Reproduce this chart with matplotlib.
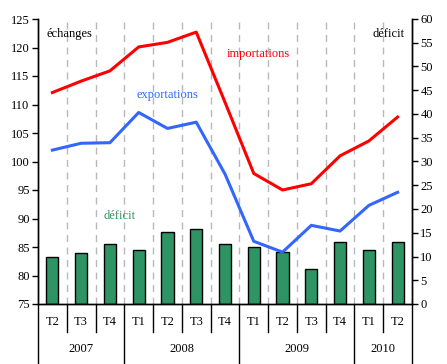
import matplotlib
matplotlib.use("Agg")
import matplotlib.pyplot as plt
import matplotlib.transforms as mtransforms
import numpy as np

# ===== Data =====
quarters = ["T2", "T3", "T4", "T1", "T2", "T3", "T4", "T1", "T2", "T3", "T4", "T1", "T2"]
years = ["2007", "2008", "2009", "2010"]
year_counts = [3, 4, 4, 2]

importations = [112.1, 114.1, 115.9, 120.1, 120.9, 122.7, 110.4, 97.9, 95.0, 96.1, 101.0, 103.6, 107.8]
exportations = [102.0, 103.2, 103.3, 108.6, 105.8, 106.9, 97.8, 86.0, 84.1, 88.8, 87.8, 92.3, 94.6]
deficit = [10.0, 10.7, 12.6, 11.3, 15.1, 15.7, 12.6, 11.9, 10.9, 7.3, 13.0, 11.3, 13.0]

# ===== Styling =====
font_name = "Liberation Serif"
plt.rcParams["font.family"] = font_name
tick_size = 9
text_size = 9
red = "#ff0000"
blue = "#3366ff"
green = "#2e9463"

x = np.arange(len(quarters))

fig = plt.figure(figsize=(4.47, 3.64), dpi=100)
ax = fig.add_axes([38 / 447, 60 / 364, 374 / 447, 285 / 364])
ax2 = ax.twinx()

# bars behind the lines
ax2.set_zorder(1)
ax.set_zorder(2)
ax.patch.set_visible(False)

ax2.bar(x, deficit, width=0.42, color=green, edgecolor="black", linewidth=1.0)
ax.plot(x, importations, color=red, linewidth=2.2)
ax.plot(x, exportations, color=blue, linewidth=2.2)

ax.set_xlim(-0.5, len(quarters) - 0.5)
ax.set_ylim(75, 125)
ax2.set_ylim(0, 60)
ax.set_yticks(np.arange(75, 126, 5))
ax2.set_yticks(np.arange(0, 61, 5))
ax.set_xticks([])
ax2.set_xticks([])

for a in (ax, ax2):
    a.spines["top"].set_visible(False)
    for s in a.spines.values():
        s.set_linewidth(1.0)
ax.tick_params(axis="y", direction="out", length=4, width=1, labelsize=tick_size, pad=2)
ax2.tick_params(axis="y", direction="out", length=4, width=1, labelsize=tick_size, pad=2)

# dashed vertical separators
for b in np.arange(0.5, len(quarters) - 0.5, 1):
    ax.axvline(b, color="#b8b8b8", linestyle=(0, (5, 4)), linewidth=1.0, zorder=0)

# ===== Category axis (quarters / years) =====
trans = mtransforms.blended_transform_factory(ax.transData, ax.transAxes)
year_edges = np.concatenate([[0], np.cumsum(year_counts)]) - 0.5
for b in np.arange(-0.5, len(quarters), 1):
    if np.any(np.isclose(b, year_edges)):
        ax.plot([b, b], [0, -0.215], color="black", linewidth=1.0, transform=trans, clip_on=False)
    else:
        ax.plot([b, b], [0, -0.097], color="black", linewidth=1.0, transform=trans, clip_on=False)

for xi, q in zip(x, quarters):
    ax.text(xi, -0.062, q, transform=trans, ha="center", va="center", fontsize=tick_size)
for i, yr in enumerate(years):
    ax.text((year_edges[i] + year_edges[i + 1]) / 2, -0.159, yr, transform=trans,
            ha="center", va="center", fontsize=tick_size)

# ===== Labels =====
ax.text(-0.19, 122.4, "échanges", fontsize=text_size, color="black", va="center", ha="left")
ax.text(12.26, 122.4, "déficit", fontsize=text_size, color="black", va="center", ha="right")
ax.text(6.07, 118.9, "importations", fontsize=text_size, color=red, va="center", ha="left")
ax.text(2.91, 111.7, "exportations", fontsize=text_size, color=blue, va="center", ha="left")
ax.text(1.79, 90.4, "déficit", fontsize=text_size, color=green, va="center", ha="left")

fig.savefig("out.png", dpi=100)
